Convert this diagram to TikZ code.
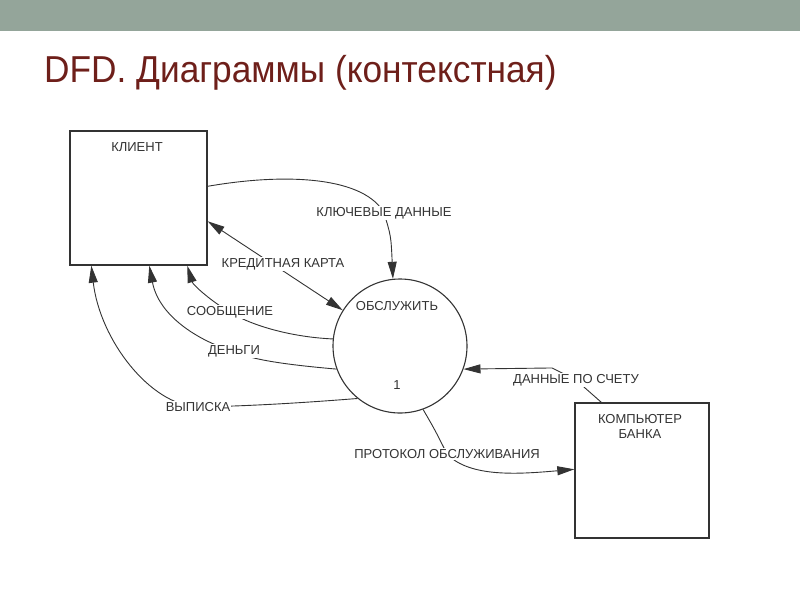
\documentclass[tikz,border=0pt]{standalone}
\usepackage{fontspec}
\setmainfont{Liberation Sans}
\usetikzlibrary{arrows.meta,calc,backgrounds}
\definecolor{barcol}{HTML}{94A59A}
\definecolor{titlecol}{HTML}{6E1F1A}
\definecolor{ink}{HTML}{333333}
\tikzset{
  ent/.style={draw=ink,line width=1.4pt,minimum width=137pt,minimum height=134pt,inner sep=0pt},
  proc/.style={draw=ink,line width=1.1pt,circle,minimum size=134pt,inner sep=0pt},
  lbl/.style={font=\fontsize{13}{15}\selectfont,text=ink,fill=white,inner sep=1pt},
  txt/.style={font=\fontsize{13}{15}\selectfont,text=ink,inner sep=0pt},
  flow/.style={draw=ink,line width=0.9pt},
  tip/.style={-{Triangle[length=17pt,width=9pt]}},
  tips/.style={{Triangle[length=17pt,width=9pt]}-{Triangle[length=17pt,width=9pt]}},
}
\begin{document}
\begin{tikzpicture}[x=1pt,y=-1pt]
\useasboundingbox (0,0) rectangle (800,600);
\fill[barcol] (0,0) rectangle (800,31);
\node[anchor=base west,inner sep=0pt,text=titlecol,font=\fontsize{37.5}{40}\selectfont] (title) at (44,82) {\scalebox{0.94}[1]{DFD. Диаграммы (контекстная)}};

% entities and process
\node[ent] (client) at (138.5,198) {};
\node[txt] (clientl) at (137,147) {КЛИЕНТ};
\node[proc] (serve) at (400,346) {};
\node[txt] (servel) at (397,306) {ОБСЛУЖИТЬ};
\node[txt] (servenum) at (397,385) {1};
\node[ent,minimum width=134pt,minimum height=135pt] (bank) at (642,470.5) {};
\node[txt,align=center] (bankl) at (640,426) {КОМПЬЮТЕР\\БАНКА};

% flow labels
\node[lbl] (kd) at (384,213) {КЛЮЧЕВЫЕ ДАННЫЕ};
\node[lbl] (kk) at (283,264) {КРЕДИТНАЯ КАРТА};
\node[lbl] (sm) at (230,312) {СООБЩЕНИЕ};
\node[lbl] (dn) at (234,351) {ДЕНЬГИ};
\node[lbl] (vp) at (198,407) {ВЫПИСКА};
\node[lbl] (ds) at (576,380) {ДАННЫЕ ПО СЧЕТУ};
\node[lbl] (pr) at (447,454) {ПРОТОКОЛ ОБСЛУЖИВАНИЯ};

\coordinate (kdA) at ($(client.north east)+(0,56)$);
\coordinate (kkA) at ($(client.north east)+(0,91)$);
\coordinate (smB) at ($(client.south west)+(118,0)$);
\coordinate (dnB) at ($(client.south west)+(80,0)$);
\coordinate (vpB) at ($(client.south west)+(22,0)$);
\coordinate (dsA) at ($(bank.north west)+(27,0)$);
\coordinate (dsT) at ($(ds.north west)+(40,-5)$);
\coordinate (prB) at ($(bank.north west)+(0,67)$);

\begin{scope}[on background layer]
\draw[flow,tip] (kdA) .. controls (290,172) and (365,178) .. (kd.center) .. controls (391,236) .. (serve.96);
\draw[flow,tips] (kkA) -- (serve.148);
\draw[flow,tip] (serve.174) .. controls (290,337) and (250,325) .. (sm.center) .. controls (212,302) and (193,285) .. (smB);
\draw[flow,tip] (serve.200) .. controls (290,365) and (250,360) .. (dn.center) .. controls (212,346) and (160,322) .. (dnB);
\draw[flow,tip] (serve.231) .. controls (300,403) and (250,406) .. (vp.center) .. controls (150,405) and (100,340) .. (vpB);
\draw[flow,tip] (dsA) -- (ds.center) -- (dsT) -- (serve.340);
\draw[flow,tip] (serve.290) .. controls (435,430) .. (pr.center) .. controls (470,478) and (520,474) .. (prB);
\end{scope}
\end{tikzpicture}
\end{document}
